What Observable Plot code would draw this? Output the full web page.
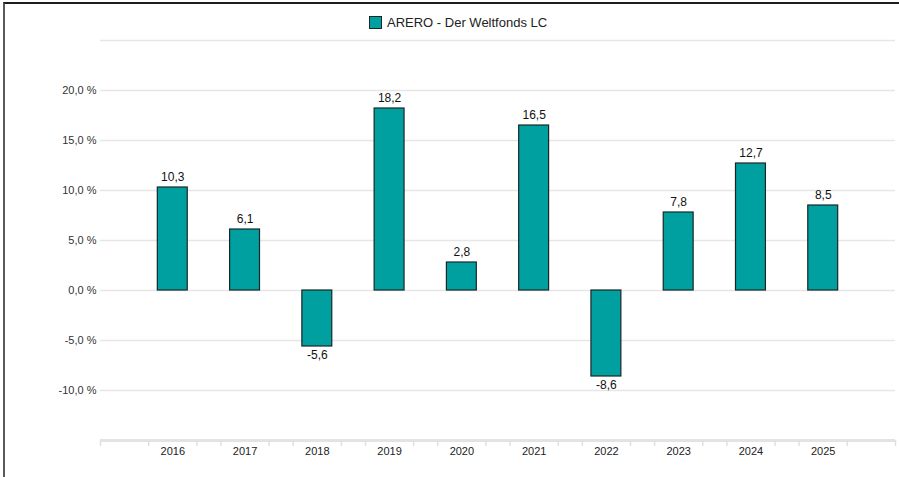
<!DOCTYPE html>
<html>
<head>
<meta charset="utf-8">
<script src="https://cdn.jsdelivr.net/npm/d3@7"></script>
<script src="https://cdn.jsdelivr.net/npm/@observablehq/plot@0.6"></script>
<style>
  html, body { margin: 0; padding: 0; background: #fff; width: 899px; height: 477px; overflow: hidden; }
  #frame { position: absolute; left: 3px; top: 2px; right: -5px; bottom: -5px; border-top: 2px solid #1e1e1e; border-left: 2px solid #5a5a5a; pointer-events: none; }
  #chart { position: absolute; left: 0; top: 0; }
  #legend { position: absolute; left: 369px; top: 15px; font-family: "Liberation Sans", Arial, sans-serif; font-size: 13px; color: #222; display: flex; align-items: center; }
  #legend .sw { width: 11px; height: 11px; background: #00A0A0; border: 1px solid #1a2626; margin-right: 5px; }
</style>
</head>
<body>
<div id="chart"></div>
<div id="legend"><span class="sw"></span><span>ARERO - Der Weltfonds LC</span></div>
<div id="frame"></div>
<script>
const years = [2016, 2017, 2018, 2019, 2020, 2021, 2022, 2023, 2024, 2025];
const values = [10.3, 6.1, -5.6, 18.2, 2.8, 16.5, -8.6, 7.8, 12.7, 8.5];
const yTickLabels = [-10, -5, 0, 5, 10, 15, 20];
const yGrid = [-10, -5, 0, 5, 10, 15, 20, 25];
const seriesName = "ARERO - Der Weltfonds LC";

const data = years.map((y, i) => ({year: y, value: values[i]}));
const halfBar = 0.207;
const minorTicks = [years[0] - 1];
years.forEach(y => { minorTicks.push(y - 1/3, y + 1/3); });
minorTicks.push(years[years.length - 1] + 1);

const fmtNum = v => v.toFixed(1).replace(".", ",");
const font = "'Liberation Sans', Arial, sans-serif";

const chart = Plot.plot({
  width: 899,
  height: 477,
  marginTop: 40,
  marginBottom: 37,
  marginLeft: 100,
  marginRight: 4,
  style: {fontFamily: font, background: "transparent"},
  x: {type: "linear", domain: [years[0] - 1, years[years.length - 1] + 1]},
  y: {domain: [-15, 25]},
  marks: [
    Plot.gridY(yGrid, {stroke: "#e6e6e6", strokeOpacity: 1, strokeWidth: 1.5}),
    Plot.ruleY([-15], {stroke: "#e3e3e3", strokeWidth: 3}),
    Plot.axisY(yTickLabels, {tickSize: 0, tickPadding: 4, fontSize: 11, fill: "#333", tickFormat: v => fmtNum(v) + " %", label: null}),
    Plot.axisX(minorTicks, {tickSize: 6, stroke: "#e0e0e0", strokeWidth: 1.5, tickFormat: () => "", label: null}),
    Plot.axisX(years, {tickSize: 0, tickPadding: 7, fontSize: 11, fill: "#222", tickFormat: d => String(d), label: null}),
    Plot.rectY(data, {x1: d => d.year - halfBar, x2: d => d.year + halfBar, y1: 0, y2: "value", fill: "#00A0A0", stroke: "#1a2626", strokeWidth: 1.2}),
    Plot.text(data.filter(d => d.value >= 0), {x: "year", y: "value", text: d => fmtNum(d.value), dy: -10, fontSize: 12, fill: "#111"}),
    Plot.text(data.filter(d => d.value < 0), {x: "year", y: "value", text: d => fmtNum(d.value), dy: 9, fontSize: 12, fill: "#111"})
  ]
});
document.getElementById("chart").appendChild(chart);
</script>
</body>
</html>
